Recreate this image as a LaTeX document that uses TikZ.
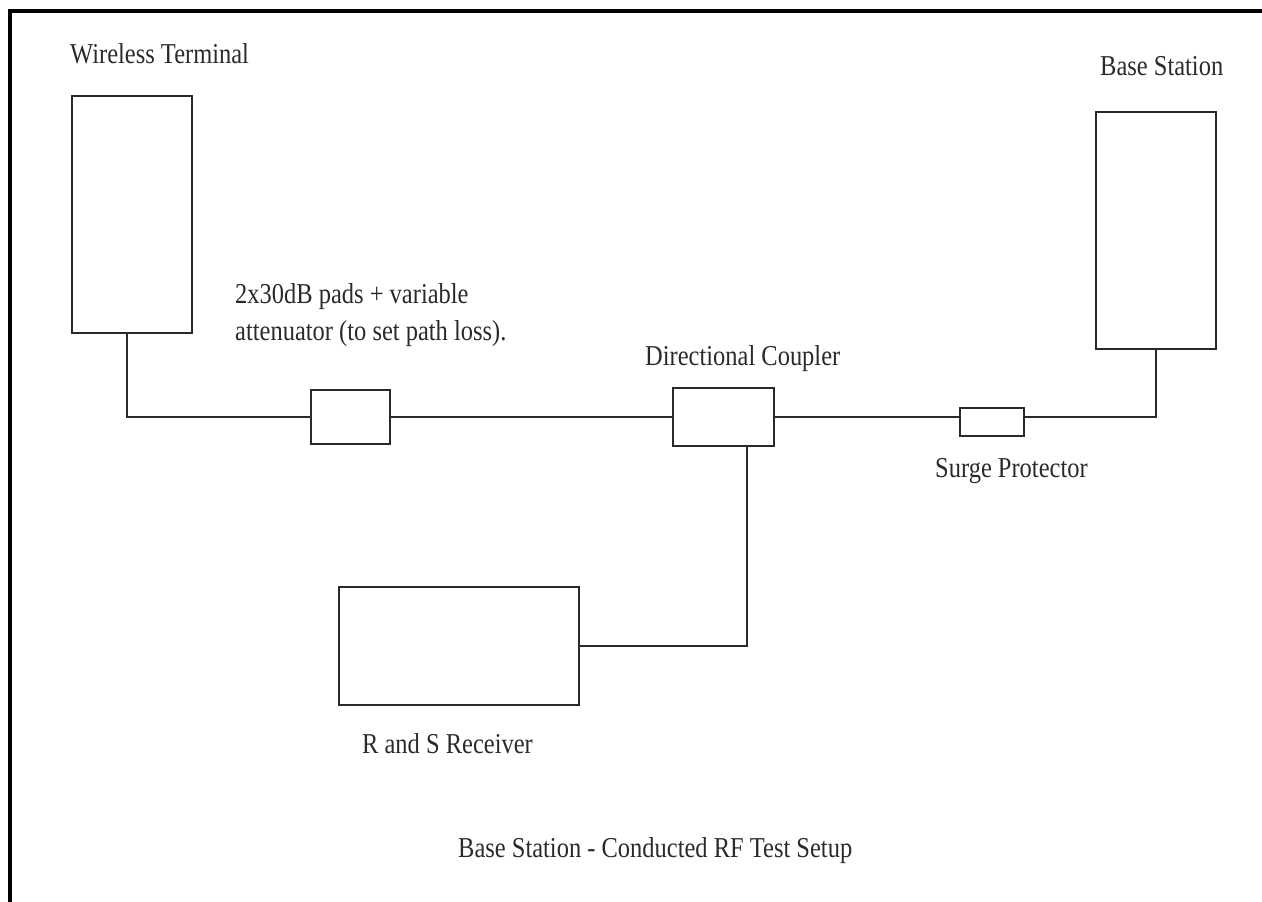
\documentclass[tikz,border=0pt]{standalone}
\usepackage{fontspec}
\setmainfont[FakeStretch=0.85]{Liberation Serif}
\usetikzlibrary{positioning}
\definecolor{SetupInk}{HTML}{2A2A2A}
\tikzset{
  unit/.style={draw=SetupInk, line width=2.4pt, inner sep=0pt},
  wire/.style={draw=SetupInk, line width=2.2pt},
  caption/.style={inner sep=0pt, text=SetupInk, font=\fontsize{28.8}{37}\selectfont},
}
\begin{document}
\begin{tikzpicture}[x=1pt,y=-1pt]
  \useasboundingbox (0,0) rectangle (1262,902);
  \draw[line width=4pt] (10,902) -- (10,11) -- (1262,11);

  \node[unit,minimum width=120pt,minimum height=237pt] (wt) at (132,214.5) {};
  \node[unit,minimum width=120pt,minimum height=237pt] (bs) at (1156,230.5) {};
  \node[unit,minimum width=79pt,minimum height=54pt] (att) at (350.5,417) {};
  \node[unit,minimum width=101pt,minimum height=58pt] (cpl) at (723.5,417) {};
  \node[unit,minimum width=64pt,minimum height=28pt] (sp) at (992,422) {};
  \node[unit,minimum width=240pt,minimum height=118pt] (rx) at (459,646) {};

  \node[caption,anchor=base west] (wtlabel) at (70,63) {Wireless Terminal};
  \node[caption,anchor=base west] (bslabel) at (1100,75) {Base Station};
  \node[caption,anchor=north west,align=left] (attlabel) at (235,283)
    {2x30dB pads + variable\\attenuator (to set path loss).};
  \node[caption,anchor=base west] (cpllabel) at (645,365) {Directional Coupler};
  \node[caption,anchor=base west] (splabel) at (935,477) {Surge Protector};
  \node[caption,anchor=base west] (rxlabel) at (362,753) {R and S Receiver};
  \node[caption,anchor=base west] (title) at (458,857) {Base Station - Conducted RF Test Setup};

  \draw[wire] ([xshift=-5pt]wt.south) |- (att.west);
  \draw[wire] (att.east) -- (cpl.west);
  \draw[wire] (cpl.east) -- (cpl.east -| sp.west);
  \draw[wire] (bs.south) |- (cpl.east -| sp.east);
  \draw[wire] ([xshift=23.5pt]cpl.south) |- (rx.east);
\end{tikzpicture}
\end{document}
